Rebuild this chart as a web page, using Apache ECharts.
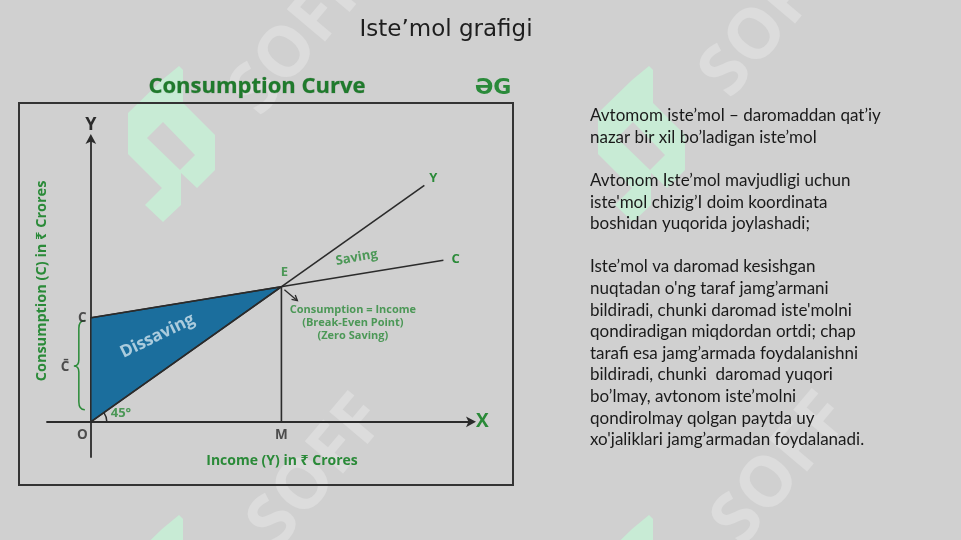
<!DOCTYPE html>
<html>
<head>
<meta charset="utf-8">
<script src="https://cdn.jsdelivr.net/npm/echarts@6/dist/echarts.min.js"></script>
<style>
html,body{margin:0;padding:0;background:#d0d0d0;}
#main{width:961px;height:540px;}
</style>
</head>
<body>
<div id="main"></div>
<script>
// ---- data ----
const incomeLine = [[0, 0], [175, 175]];          // 45° line  (Y = C)
const consumptionLine = [[0, 77], [185, 119.5]];  // C = C̄ + bY
const autonomousC = 77;
const breakEven = [100, 100];
const dissavingArea = [[0, 0], [0, 77], [100, 100]];
const mLine = [[100, 0], [100, 100]];

const slideTitle = 'Iste\u2019mol grafigi';
const chartTitle = 'Consumption Curve';
const xTitle = 'Income (Y) in \u20B9 Crores';
const yTitle = 'Consumption (C) in \u20B9 Crores';
const bodyLines = [
  'Avtomom iste\u2019mol \u2013 daromaddan qat\u2019iy',
  'nazar bir xil bo\u2019ladigan iste\u2019mol',
  '',
  'Avtonom Iste\u2019mol mavjudligi uchun',
  'iste\'mol chizig\u2019I doim koordinata',
  'boshidan yuqorida joylashadi;',
  '',
  'Iste\u2019mol va daromad kesishgan',
  'nuqtadan o\'ng taraf jamg\u2019armani',
  'bildiradi, chunki daromad iste\'molni',
  'qondiradigan miqdordan ortdi; chap',
  'tarafi esa jamg\u2019armada foydalanishni',
  'bildiradi, chunki  daromad yuqori',
  'bo\u2019lmay, avtonom iste\u2019molni',
  'qondirolmay qolgan paytda uy',
  'xo\'jaliklari jamg\u2019armadan foydalanadi.'
];

// annotations: [text, x, y, rotateDeg, style]
const annotations = [
  ['C', -4.5, 77, 0, 'dark'],
  ['O', -4.5, -10, 0, 'dark'],
  ['M', 100, -10, 0, 'dark'],
  ['E', 101.5, 111, 0, 'green'],
  ['Saving', 139.5, 121.5, 10, 'green'],
  ['Dissaving', 35, 63.5, 26, 'light'],
  ['45\u00B0', 15.8, 6, 0, 'green'],
  ['C\u0304', -13.5, 40.5, 0, 'dark'],
  ['Consumption = Income', 137.5, 83, 0, 'small'],
  ['(Break-Even Point)', 137.5, 73.3, 0, 'small'],
  ['(Zero Saving)', 137.5, 63.6, 0, 'small']
];

const GREEN = '#2a8a38';
const DARK = '#2b2b2b';
const FONT = '"Open Sans", "Noto Sans", sans-serif';

const labelStyles = {
  dark: {color: DARK, fontSize: 13.5, fontWeight: 'bold'},
  green: {color: GREEN, fontSize: 13, fontWeight: 'bold'},
  light: {color: '#cfe4ee', fontSize: 17, fontWeight: 'bold'},
  small: {color: GREEN, fontSize: 11, fontWeight: 'bold'}
};

// ---- watermark decoration ----
const gShape = [[179,66],[183,70],[183,103],[215,135],[215,170],[197,188],[181,173],[181,205],[163,222],[145,205],[162,188],[128,154],[128,113],[162,80]];
const gHole = [[147,138],[163,122],[195,155],[180,170]];
const wmOffsets = [[0,0],[470,0],[0,449],[470,449]];
const wmTexts = [[300,40],[770,22],[318,472],[782,470]];

const chart = echarts.init(document.getElementById('main'), null, {renderer: 'canvas'});

const graphics = [];
wmOffsets.forEach(function (o) {
  graphics.push({type: 'polygon', z: -10, silent: true,
    shape: {points: gShape.map(p => [p[0] + o[0], p[1] + o[1]])},
    style: {fill: '#c8ebd5'}});
  graphics.push({type: 'polygon', z: -9, silent: true,
    shape: {points: gHole.map(p => [p[0] + o[0], p[1] + o[1]])},
    style: {fill: '#d0d0d0'}});
});
wmTexts.forEach(function (p) {
  graphics.push({type: 'text', z: -8, silent: true, x: p[0], y: p[1], rotation: 50 * Math.PI / 180,
    style: {text: 'SOFF', fill: 'rgba(255,255,255,0.25)', font: 'bold 70px "Open Sans", sans-serif',
      align: 'center', verticalAlign: 'middle'}});
});
graphics.push(
  {type: 'text', x: 446, y: 30, style: {text: slideTitle, fill: '#1e1e1e',
    font: '23px "DejaVu Sans", sans-serif', align: 'center', verticalAlign: 'middle'}},
  {type: 'rect', shape: {x: 19, y: 103, width: 494, height: 382},
    style: {fill: null, stroke: '#333', lineWidth: 2}},
  {type: 'text', x: 257, y: 87, style: {text: chartTitle, fill: '#1f7a2c', stroke: 'rgba(20,60,20,0.35)', lineWidth: 0.6,
    font: 'bold 22px ' + FONT, align: 'center', verticalAlign: 'middle'}},
  {type: 'text', x: 493, y: 88, style: {text: '\u018FG', fill: '#2a8a3a',
    font: 'bold 22px "DejaVu Sans", sans-serif', align: 'center', verticalAlign: 'middle'}},
  {type: 'text', x: 282, y: 461, style: {text: xTitle, fill: GREEN,
    font: 'bold 14px ' + FONT, align: 'center', verticalAlign: 'middle'}},
  {type: 'text', x: 42, y: 281, rotation: Math.PI / 2, style: {text: yTitle, fill: GREEN,
    font: 'bold 14.5px ' + FONT, align: 'center', verticalAlign: 'middle'}},
  {type: 'text', x: 590, y: 105, style: {text: bodyLines.join('\n'), fill: '#1a1a1a',
    font: '17px Lato, sans-serif', lineHeight: 21.6, align: 'left', verticalAlign: 'top'}}
);

const option = {
  animation: false,
  backgroundColor: '#d0d0d0',
  grid: {left: 47, right: 489, top: 138, bottom: 83, containLabel: false},
  xAxis: {
    type: 'value', min: -23, max: 200,
    name: 'X', nameLocation: 'end', nameGap: 4,
    nameTextStyle: {color: GREEN, fontSize: 19, fontWeight: 'bold', fontFamily: FONT, verticalAlign: 'middle'},
    axisLine: {show: true, onZero: true, symbol: ['none', 'arrow'], symbolSize: [8, 10], symbolOffset: [0, 4],
      lineStyle: {color: DARK, width: 1.8}},
    axisTick: {show: false}, axisLabel: {show: false}, splitLine: {show: false}
  },
  yAxis: {
    type: 'value', min: -26, max: 210,
    name: 'Y', nameLocation: 'end', nameGap: 4,
    nameTextStyle: {color: DARK, fontSize: 18, fontWeight: 'bold', fontFamily: FONT},
    axisLine: {show: true, onZero: true, symbol: ['none', 'arrow'], symbolSize: [8, 10], symbolOffset: [0, 4],
      lineStyle: {color: DARK, width: 1.8}},
    axisTick: {show: false}, axisLabel: {show: false}, splitLine: {show: false}
  },
  graphic: graphics,
  series: [
    {
      type: 'custom', name: 'Dissaving', z: 2,
      data: [dissavingArea[0]],
      renderItem: function (params, api) {
        return {type: 'polygon', shape: {points: dissavingArea.map(p => api.coord(p))},
          style: {fill: '#1b6e9d', stroke: DARK, lineWidth: 1.5}};
      }
    },
    {
      type: 'line', name: 'Income', data: incomeLine, symbol: 'none', z: 3,
      lineStyle: {color: DARK, width: 1.6},
      endLabel: {show: true, formatter: 'Y', color: GREEN, fontSize: 13, fontWeight: 'bold', fontFamily: FONT, offset: [-3, -7]}
    },
    {
      type: 'line', name: 'Consumption', data: consumptionLine, symbol: 'none', z: 3,
      lineStyle: {color: DARK, width: 1.6},
      endLabel: {show: true, formatter: 'C', color: GREEN, fontSize: 13, fontWeight: 'bold', fontFamily: FONT, offset: [0, -1]}
    },
    {
      type: 'line', name: 'M', data: mLine, symbol: 'none', z: 3,
      lineStyle: {color: DARK, width: 1.6}
    },
    {
      type: 'custom', name: 'decor', z: 4, silent: true,
      data: [breakEven],
      renderItem: function (params, api) {
        const o = api.coord([0, 0]);
        const e = api.coord(breakEven);
        const top = api.coord([0, autonomousC - 2]);
        const bot = api.coord([0, 9]);
        const mid = (top[1] + bot[1]) / 2 + 1;
        const bx = o[0] - 12;
        const brace = 'M' + (bx + 6) + ' ' + top[1] +
          ' Q' + bx + ' ' + top[1] + ' ' + bx + ' ' + (top[1] + 8) +
          ' L' + bx + ' ' + (mid - 6) +
          ' Q' + bx + ' ' + mid + ' ' + (bx - 5) + ' ' + mid +
          ' Q' + bx + ' ' + mid + ' ' + bx + ' ' + (mid + 6) +
          ' L' + bx + ' ' + (bot[1] - 8) +
          ' Q' + bx + ' ' + bot[1] + ' ' + (bx + 6) + ' ' + bot[1];
        const a0 = [e[0] + 3, e[1] + 3];
        const a1 = [e[0] + 16, e[1] + 14];
        const ang = Math.atan2(a1[1] - a0[1], a1[0] - a0[0]);
        const h1 = [a1[0] - 6 * Math.cos(ang - 0.5), a1[1] - 6 * Math.sin(ang - 0.5)];
        const h2 = [a1[0] - 6 * Math.cos(ang + 0.5), a1[1] - 6 * Math.sin(ang + 0.5)];
        const slope = Math.atan2(api.coord(incomeLine[1])[1] - o[1], api.coord(incomeLine[1])[0] - o[0]);
        return {type: 'group', children: [
          {type: 'path', shape: {pathData: brace}, style: {fill: null, stroke: GREEN, lineWidth: 1.5}},
          {type: 'polyline', shape: {points: [a0, a1]}, style: {stroke: DARK, lineWidth: 1.3}},
          {type: 'polyline', shape: {points: [h1, a1, h2]}, style: {fill: null, stroke: DARK, lineWidth: 1.3}},
          {type: 'arc', shape: {cx: o[0], cy: o[1], r: 16, startAngle: slope, endAngle: 0},
            style: {fill: null, stroke: DARK, lineWidth: 1.5}}
        ]};
      }
    },
    {
      type: 'scatter', name: 'labels', symbolSize: 0, silent: true, z: 5, clip: false,
      data: annotations.map(function (a) {
        const s = labelStyles[a[4]];
        return {value: [a[1], a[2]], label: {show: true, position: 'inside', formatter: a[0], rotate: a[3],
          color: s.color, fontSize: s.fontSize, fontWeight: s.fontWeight, fontFamily: FONT}};
      })
    }
  ]
};
chart.setOption(option);
</script>
</body>
</html>
